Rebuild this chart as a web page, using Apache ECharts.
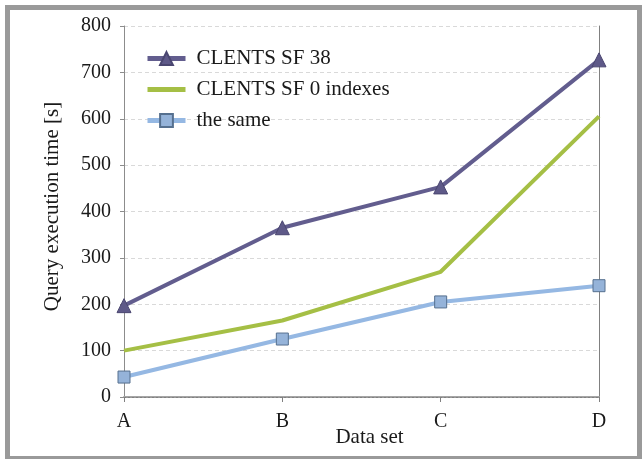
<!DOCTYPE html>
<html>
<head>
<meta charset="utf-8">
<script src="https://cdn.jsdelivr.net/npm/echarts@6/dist/echarts.min.js"></script>
<style>
html,body{margin:0;padding:0;background:#fff;}
#frame{position:absolute;left:5px;top:5px;width:627px;height:446px;border:5px solid #9a9a9a;background:#fff;}
#chart{position:absolute;left:0;top:0;width:642px;height:459px;}
</style>
</head>
<body>
<div id="frame"></div>
<div id="chart"></div>
<script>
const categories = ['A', 'B', 'C', 'D'];
const seriesNames = ['CLENTS SF 38', 'CLENTS SF 0 indexes', 'the same'];
const sf38 = [197, 365, 453, 727];
const sf0Indexes = [100, 165, 270, 605];
const theSame = [43, 125, 205, 240];
const yTicks = [0, 100, 200, 300, 400, 500, 600, 700, 800];

const font = 'Liberation Serif, Times New Roman, serif';
const chart = echarts.init(document.getElementById('chart'), null, {renderer: 'canvas'});
chart.setOption({
  backgroundColor: 'transparent',
  animation: false,
  grid: {left: 124, right: 43, top: 26, bottom: 62, containLabel: false, outerBoundsMode: 'none'},
  legend: {
    orient: 'vertical', left: 145, top: 48, padding: 0, itemWidth: 38, itemHeight: 16, itemGap: 10,
    textStyle: {fontFamily: font, fontSize: 21, color: '#1a1a1a', padding: [0,0,0,6]},
    lineStyle: {width: 5},
    data: [
      {name: seriesNames[0]},
      {name: seriesNames[1], itemStyle: {opacity: 0}},
      {name: seriesNames[2]}
    ]
  },
  xAxis: [{
    type: 'category', data: categories, boundaryGap: false,
    name: 'Data set', nameLocation: 'middle', nameGap: 30, nameMoveOverlap: false,
    nameTextStyle: {fontFamily: font, fontSize: 21, color: '#1a1a1a', padding: [0,0,0,16]},
    axisLine: {lineStyle: {color: '#a6a6a6', width: 2}},
    axisTick: {show: true, length: 5, lineStyle: {color: '#808080', width: 1}},
    axisLabel: {fontFamily: font, fontSize: 20, color: '#1a1a1a', margin: 15},
    splitLine: {show: false}
  }, {
    type: 'category', data: categories, boundaryGap: false, position: 'top',
    axisLine: {lineStyle: {color: '#808080', width: 1, type: [2, 2]}},
    axisTick: {show: false}, axisLabel: {show: false}, splitLine: {show: false}
  }],
  yAxis: [{
    type: 'value', min: yTicks[0], max: yTicks[yTicks.length - 1], interval: 100,
    name: 'Query execution time [s]', nameLocation: 'middle', nameGap: 61, nameMoveOverlap: false,
    nameTextStyle: {fontFamily: font, fontSize: 21, color: '#1a1a1a', padding: [0,0,0,10]},
    axisLine: {show: true, lineStyle: {color: '#8c8c8c', width: 1}},
    axisTick: {show: true, length: 4, lineStyle: {color: '#8c8c8c'}},
    axisLabel: {fontFamily: font, fontSize: 20, color: '#1a1a1a', margin: 13},
    splitLine: {show: true, lineStyle: {color: '#d9d9d9', type: [4, 3], width: 1}}
  }, {
    type: 'value', min: yTicks[0], max: yTicks[yTicks.length - 1], interval: 100, position: 'right',
    axisLine: {show: true, lineStyle: {color: '#808080', width: 1}},
    axisTick: {show: false}, axisLabel: {show: false}, splitLine: {show: false}
  }],
  series: [{
    name: seriesNames[0], type: 'line', data: sf38,
    symbol: 'triangle', symbolSize: 14,
    lineStyle: {color: '#625d8e', width: 4},
    itemStyle: {color: '#5e5988', borderColor: '#4a4670', borderWidth: 1},
    z: 4
  }, {
    name: seriesNames[1], type: 'line', data: sf0Indexes,
    symbol: 'none',
    lineStyle: {color: '#a5bf45', width: 4},
    itemStyle: {color: '#a5bf45'},
    z: 3
  }, {
    name: seriesNames[2], type: 'line', data: theSame,
    symbol: 'rect', symbolSize: 12,
    lineStyle: {color: '#95b8e3', width: 4},
    itemStyle: {color: '#95b3d9', borderColor: '#56708f', borderWidth: 1},
    z: 2
  }]
});
</script>
</body>
</html>
